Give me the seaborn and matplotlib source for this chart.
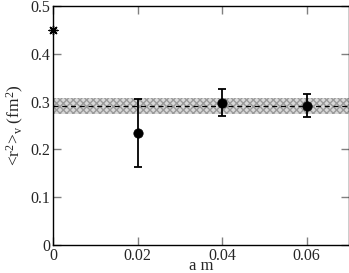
import numpy as np
import matplotlib
matplotlib.use("Agg")
import matplotlib.pyplot as plt
import seaborn as sns

# data
am = [0.02, 0.04, 0.06]
r2 = [0.235, 0.298, 0.291]
err_lo = [0.072, 0.028, 0.023]
err_hi = [0.070, 0.029, 0.024]
star_x = [0.0]
star_y = [0.45]
fit_value = 0.291
fit_lo = 0.275
fit_hi = 0.307

sns.set_style("ticks")
plt.rcParams['font.family'] = ['Liberation Serif', 'DejaVu Serif']
plt.rcParams['mathtext.fontset'] = 'custom'
plt.rcParams['mathtext.rm'] = 'Liberation Serif'
plt.rcParams['mathtext.it'] = 'Liberation Serif'

fig = plt.figure(figsize=(3.49, 2.73), dpi=100)
ax = fig.add_axes([53 / 349, 1 - 245 / 273, 296 / 349, 239 / 273])

xs = np.array([0.0, 0.07])
ax.fill_between(xs, fit_lo, fit_hi, facecolor='#d9d9d9', edgecolor='#9a9a9a',
                hatch='xxxxx', linewidth=0)
ax.plot(xs, [fit_value, fit_value], color='black', linestyle=(0, (4, 3)), linewidth=0.9)

ax.errorbar(am, r2, yerr=[err_lo, err_hi], fmt='none', ecolor='black',
            elinewidth=1.3, capsize=3, capthick=1.3)
sns.scatterplot(x=am, y=r2, ax=ax, color='black', s=45, edgecolor='black', zorder=5)
sns.scatterplot(x=star_x, y=star_y, ax=ax, color='black', marker=(8, 2, 0), s=40,
                linewidth=1.0, zorder=5, clip_on=False)

ax.set_xlim(0, 0.07)
ax.set_ylim(0, 0.5)
ax.set_xticks([0, 0.02, 0.04, 0.06])
ax.set_xticklabels(['0', '0.02', '0.04', '0.06'])
ax.set_yticks([0, 0.1, 0.2, 0.3, 0.4, 0.5])
ax.set_yticklabels(['0', '0.1', '0.2', '0.3', '0.4', '0.5'])
ax.tick_params(direction='in', length=6, width=1, color='#808080', labelsize=11.5,
               top=True, right=True, pad=2)
for s in ax.spines.values():
    s.set_linewidth(1.0)
    s.set_color('black')

ax.set_xlabel('a m', fontsize=12, labelpad=-4)
ax.set_ylabel(r'<r$^2$>$_v$ (fm$^2$)', fontsize=12.5, labelpad=3)

fig.savefig('out.png', dpi=100)
